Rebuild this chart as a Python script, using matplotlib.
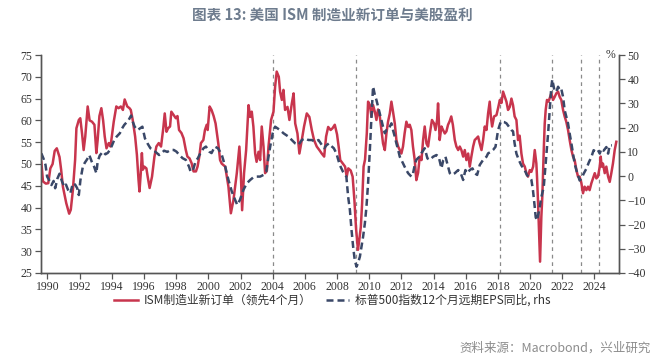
import matplotlib
matplotlib.use("Agg")
import matplotlib.pyplot as plt

# ISM new orders (lead 4 months), decimal years / index level
ism_years = [
    1989.62, 1989.72, 1989.9, 1990.05, 1990.18, 1990.32, 1990.45, 1990.58, 1990.75, 1990.85,
    1990.96, 1991.17, 1991.35, 1991.45, 1991.58, 1991.72, 1991.8, 1991.95, 1992.04, 1992.15,
    1992.25, 1992.35, 1992.5, 1992.62, 1992.77, 1992.92, 1993.04, 1993.12, 1993.23, 1993.35,
    1993.46, 1993.56, 1993.67, 1993.81, 1993.92, 1994.0, 1994.12, 1994.28, 1994.42, 1994.56,
    1994.69, 1994.8, 1994.96, 1995.1, 1995.18, 1995.3, 1995.45, 1995.56, 1995.66, 1995.72,
    1995.8, 1995.87, 1995.93, 1996.02, 1996.15, 1996.23, 1996.35, 1996.5, 1996.65, 1996.77,
    1996.92, 1997.06, 1997.2, 1997.29, 1997.4, 1997.5, 1997.62, 1997.7, 1997.83, 1997.98,
    1998.08, 1998.18, 1998.33, 1998.46, 1998.6, 1998.7, 1998.83, 1998.96, 1999.08, 1999.23,
    1999.33, 1999.44, 1999.54, 1999.69, 1999.79, 1999.9, 1999.96, 2000.08, 2000.2, 2000.33,
    2000.45, 2000.62, 2000.73, 2000.83, 2001.05, 2001.25, 2001.4, 2001.56, 2001.77, 2001.93,
    2002.02, 2002.1, 2002.22, 2002.35, 2002.5, 2002.6, 2002.7, 2002.8, 2002.91, 2003.0,
    2003.12, 2003.22, 2003.32, 2003.43, 2003.53, 2003.64, 2003.74, 2003.9, 2004.05, 2004.15,
    2004.25, 2004.38, 2004.46, 2004.57, 2004.67, 2004.77, 2004.92, 2005.04, 2005.19, 2005.3,
    2005.4, 2005.54, 2005.66, 2005.81, 2005.95, 2006.12, 2006.28, 2006.43, 2006.57, 2006.74,
    2006.9, 2007.05, 2007.2, 2007.32, 2007.45, 2007.6, 2007.72, 2007.86, 2008.0, 2008.1,
    2008.2, 2008.36, 2008.5, 2008.6, 2008.7, 2008.85, 2008.97, 2009.08, 2009.18, 2009.3,
    2009.38, 2009.48, 2009.56, 2009.65, 2009.74, 2009.85, 2009.93, 2010.04, 2010.14, 2010.24,
    2010.35, 2010.45, 2010.55, 2010.66, 2010.76, 2010.86, 2010.97, 2011.07, 2011.17, 2011.28,
    2011.38, 2011.48, 2011.59, 2011.69, 2011.8, 2011.9, 2012.0, 2012.1, 2012.2, 2012.31,
    2012.42, 2012.52, 2012.62, 2012.72, 2012.83, 2012.93, 2013.04, 2013.14, 2013.25, 2013.35,
    2013.45, 2013.56, 2013.66, 2013.77, 2013.9, 2014.03, 2014.12, 2014.22, 2014.28, 2014.38,
    2014.49, 2014.59, 2014.7, 2014.8, 2014.9, 2015.0, 2015.1, 2015.2, 2015.32, 2015.42,
    2015.53, 2015.63, 2015.73, 2015.84, 2015.94, 2016.04, 2016.15, 2016.25, 2016.35, 2016.46,
    2016.56, 2016.67, 2016.77, 2016.87, 2016.98, 2017.08, 2017.18, 2017.29, 2017.39, 2017.49,
    2017.56, 2017.64, 2017.76, 2017.91, 2018.01, 2018.12, 2018.22, 2018.32, 2018.43, 2018.53,
    2018.63, 2018.74, 2018.84, 2018.94, 2019.04, 2019.15, 2019.25, 2019.35, 2019.46, 2019.56,
    2019.67, 2019.77, 2019.87, 2019.98, 2020.08, 2020.19, 2020.29, 2020.39, 2020.43, 2020.49,
    2020.56, 2020.62, 2020.7, 2020.76, 2020.85, 2020.91, 2020.97, 2021.05, 2021.14, 2021.22,
    2021.32, 2021.43, 2021.53, 2021.63, 2021.74, 2021.84, 2021.94, 2022.05, 2022.15, 2022.25,
    2022.36, 2022.46, 2022.57, 2022.67, 2022.77, 2022.88, 2022.98, 2023.08, 2023.19, 2023.29,
    2023.39, 2023.5, 2023.6, 2023.7, 2023.81, 2023.91, 2024.02, 2024.12, 2024.22, 2024.33,
    2024.39, 2024.45, 2024.53, 2024.64, 2024.74, 2024.85, 2024.95, 2025.05, 2025.15, 2025.26,
    2025.36,
]
ism_values = [
    50.5, 46, 45.5, 45.6, 49, 50, 53, 53.6, 51.6, 48.7,
    44.8, 41, 38.6, 39.5, 44, 51, 58.2, 60.1, 60.5, 57,
    53.2, 56.3, 63.2, 60, 59.7, 59, 52.5, 55.5, 61, 62.8,
    60, 56.3, 53.6, 54.8, 54, 56.3, 59.7, 63.2, 62.8, 63.2,
    62.4, 64.8, 63.2, 62.8, 62.4, 60.1, 56.3, 52.1, 46.4, 43.7,
    47.9, 52.5, 48.7, 49.4, 49, 47.1, 44.5, 47.1, 51.7, 54,
    54.8, 54, 58.2, 61.6, 57.4, 58.2, 58.6, 62, 61.3, 60.5,
    61, 57.8, 57.1, 55.9, 53.2, 51.7, 51.3, 50.2, 48.3, 48.3,
    49.4, 51.7, 54.8, 55.5, 57.8, 59, 57.8, 63.2, 62.4, 61,
    59.3, 54.7, 50.9, 50.1, 49.4, 44.8, 38.7, 41.7, 47.9, 54,
    47.9, 39.4, 47.9, 53.2, 63.5, 60.8, 62, 58.6, 52.4, 50.5,
    52.8, 50.9, 58.6, 54, 47.9, 48.5, 54, 60.1, 62, 67.7,
    71.2, 70, 66.6, 64.7, 67, 62.4, 63.1, 60.1, 63.9, 66.2,
    59.3, 57, 52.4, 55.5, 58.6, 61.6, 60.8, 57.8, 55.5, 54,
    53.2, 52.4, 51.7, 56.3, 58.5, 57.8, 58.2, 59, 56.8, 54,
    50.9, 50.1, 49.4, 47.1, 49, 48.5, 47.1, 41.7, 35.3, 30.3,
    32.5, 35.6, 41, 49.4, 51, 57, 64.3, 63.5, 60.9, 63.5,
    62, 60.1, 62.5, 60.9, 57.8, 54.7, 53.2, 57, 59.7, 61.6,
    64.3, 62, 59.3, 55.5, 54, 53.2, 52.4, 54, 57, 59.7,
    58.5, 59, 57.8, 54, 50.9, 46.3, 48, 51.7, 50.9, 55.5,
    58.6, 54.7, 54, 57, 60.1, 59.3, 57.8, 60.1, 63.9, 55.5,
    58.6, 57.8, 57, 57.5, 59, 59.8, 60.9, 59, 55.5, 54,
    53.2, 54, 53.2, 51.7, 53.2, 50.9, 52.4, 49.4, 51.7, 54,
    55.5, 55.9, 56.3, 54.7, 53.2, 55.5, 58.6, 57.8, 61.6, 64.3,
    60.9, 58.6, 60.9, 61.2, 62.8, 64.7, 64, 66.6, 65.4, 64.3,
    62.4, 63.1, 65, 63.5, 60.9, 60.1, 55.5, 56.5, 52.4, 50.1,
    49.4, 47.9, 47.1, 48.6, 48.2, 49.4, 53.2, 50.1, 47.1, 41.7,
    34.1, 27.6, 37.9, 42.5, 53.2, 59.3, 62.4, 64.7, 64.3, 65.1,
    66.2, 64.7, 65.4, 66.2, 66.6, 65.4, 64.7, 62.4, 60.9, 59.7,
    57.8, 55.5, 53.2, 51.7, 50.9, 48.6, 47.1, 47.1, 45.6, 43.3,
    44.8, 44, 44.8, 44, 45.6, 46.7, 47.9, 46.7, 47.1, 49.4,
    51.7, 49.4, 50.1, 47.9, 49.4, 47.1, 45.9, 47.9, 50.1, 53.2,
    55.1,
]

# S&P 500 12m forward EPS yoy (%), right axis
eps_years = [
    1989.62, 1989.75, 1989.88, 1989.98, 1990.1, 1990.25, 1990.38, 1990.48, 1990.62, 1990.75,
    1990.91, 1991.05, 1991.15, 1991.28, 1991.42, 1991.58, 1991.72, 1991.85, 1991.95, 1992.05,
    1992.2, 1992.32, 1992.47, 1992.6, 1992.75, 1992.9, 1993.04, 1993.12, 1993.25, 1993.45,
    1993.6, 1993.75, 1993.88, 1994.0, 1994.15, 1994.3, 1994.5, 1994.64, 1994.77, 1994.9,
    1995.05, 1995.2, 1995.3, 1995.42, 1995.6, 1995.75, 1995.9, 1996.06, 1996.22, 1996.4,
    1996.57, 1996.7, 1996.94, 1997.08, 1997.25, 1997.45, 1997.65, 1997.85, 1998.02, 1998.2,
    1998.4, 1998.6, 1998.8, 1998.9, 1999.05, 1999.2, 1999.35, 1999.5, 1999.7, 1999.85,
    2000.06, 2000.2, 2000.4, 2000.6, 2000.84, 2001.05, 2001.25, 2001.46, 2001.67, 2001.8,
    2001.96, 2002.18, 2002.39, 2002.6, 2002.8, 2003.0, 2003.22, 2003.43, 2003.6, 2003.74,
    2003.88, 2004.0, 2004.15, 2004.3, 2004.46, 2004.67, 2004.83, 2004.98, 2005.19, 2005.4,
    2005.6, 2005.81, 2006.02, 2006.22, 2006.43, 2006.64, 2006.85, 2007.05, 2007.2, 2007.35,
    2007.5, 2007.63, 2007.8, 2007.96, 2008.17, 2008.37, 2008.58, 2008.69, 2008.8, 2008.9,
    2009.0, 2009.1, 2009.21, 2009.3, 2009.42, 2009.52, 2009.62, 2009.73, 2009.83, 2009.93,
    2010.04, 2010.14, 2010.24, 2010.35, 2010.45, 2010.55, 2010.66, 2010.76, 2010.86, 2010.97,
    2011.07, 2011.17, 2011.28, 2011.38, 2011.48, 2011.59, 2011.69, 2011.8, 2011.9, 2012.0,
    2012.1, 2012.2, 2012.31, 2012.42, 2012.52, 2012.62, 2012.72, 2012.83, 2012.93, 2013.04,
    2013.14, 2013.25, 2013.45, 2013.62, 2013.77, 2013.97, 2014.18, 2014.32, 2014.49, 2014.6,
    2014.74, 2014.9, 2015.01, 2015.12, 2015.32, 2015.53, 2015.69, 2015.84, 2015.98, 2016.1,
    2016.25, 2016.42, 2016.56, 2016.71, 2016.87, 2017.08, 2017.29, 2017.39, 2017.56, 2017.7,
    2017.85, 2018.01, 2018.18, 2018.39, 2018.53, 2018.67, 2018.84, 2018.94, 2019.04, 2019.15,
    2019.31, 2019.46, 2019.67, 2019.81, 2019.98, 2020.08, 2020.18, 2020.29, 2020.35, 2020.43,
    2020.56, 2020.7, 2020.85, 2020.97, 2021.12, 2021.22, 2021.32, 2021.38, 2021.51, 2021.63,
    2021.74, 2021.84, 2021.94, 2022.05, 2022.15, 2022.25, 2022.36, 2022.46, 2022.57, 2022.67,
    2022.77, 2022.88, 2022.98, 2023.08, 2023.19, 2023.33, 2023.5, 2023.66, 2023.81, 2023.95,
    2024.08, 2024.22, 2024.33, 2024.43, 2024.57, 2024.74, 2024.85, 2024.95, 2025.09,
]
eps_values = [
    9.4, 7.3, 4.6, -0.2, -1.6, -3.7, -2, -5, -1, 1,
    -2.3, -4.4, -3.5, -5.7, -7.1, -3, -3.5, -5, -7.8, -1.6,
    3.9, 5.5, 7, 8.7, 6, 3.9, 1.2, 6, 8.5, 10.1,
    9, 9.6, 10.8, 12.5, 14.9, 16.3, 17.7, 19.7, 21.1, 22.1,
    23.2, 25, 22.5, 20.4, 19, 19.7, 20.4, 15.6, 13.5, 11.5,
    10.8, 10.1, 8.7, 9.4, 10.5, 10, 10.8, 10.8, 10.1, 8.7,
    7.4, 6.7, 3.9, 1.8, 2.5, 6, 7.4, 9.4, 11.5, 12.2,
    10.1, 9.5, 12.2, 11.5, 8.7, 3.9, -1.6, -6.4, -9.9, -11.9,
    -9.9, -5.7, -3, -1.6, -0.5, -0.2, -0.2, 0.5, 1.8, 8,
    13.5, 17.7, 20.4, 19.7, 19, 17.7, 17, 16.3, 14.9, 13.5,
    12.9, 14.9, 15.6, 14.9, 14.9, 14.2, 14.9, 12.9, 11.5, 12.8,
    13.5, 12.5, 11.5, 9.4, 4.6, 1.8, -0.2, -8.5, -14, -22.2,
    -29.1, -34.6, -37.4, -36, -33.3, -29.1, -25, -19.5, -12.6, -3,
    10.8, 24.5, 37, 33.5, 31.4, 28.7, 25.9, 23, 20.4, 17.7,
    19, 19, 20.4, 21.8, 19, 16.3, 13.5, 10.8, 8, 6.7,
    5.3, 3.9, 2.5, 1.2, 0.5, -0.2, 1, 4.6, 6.7, 7.5,
    8, 9.5, 11.5, 7.3, 6.7, 8, 8.7, 8, 3.2, 6.5,
    8, 3.9, 1.2, 0.5, 1.2, 2.5, 1.2, -1.6, 2.5, 1.2,
    2.5, 3.2, 1.2, 0.5, 4.6, 6.7, 8, 9.4, 10, 10.8,
    12.1, 19, 22.5, 22.3, 21.8, 20.5, 19, 18.5, 13.4, 9.3,
    6.5, 4.4, 2.4, 0.3, -0.4, -1.5, -5.9, -12.8, -17, -18.3,
    -14.2, -8.7, -4.5, 5.1, 17.6, 27.2, 36.9, 39.9, 35.5, 34.8,
    36.9, 35.5, 36, 32.7, 27.2, 24.5, 21.7, 17.6, 13.4, 9.3,
    5.1, 2.4, 0.3, -1.8, -1.1, 1, 3.1, 5.8, 7.9, 10.7,
    10, 10.7, 9.3, 11.3, 10.5, 12, 9.3, 12.7, 12.7,
]

marker_years = [2004.05, 2009.17, 2018.12, 2021.38, 2023.17, 2024.27]
year_ticks = list(range(1990, 2025, 2))

title = "图表 13: 美国 ISM 制造业新订单与美股盈利"
ism_label = "ISM制造业新订单（领先4个月）"
eps_label = "标普500指数12个月远期EPS同比, rhs"
source = "资料来源：Macrobond，兴业研究"

cjk = ["Noto Sans CJK SC", "DejaVu Sans"]
num_font = ["Liberation Serif", "DejaVu Serif"]
red = "#c8354d"
navy = "#3a4868"
axis_grey = "#555555"

fig = plt.figure(figsize=(6.65, 3.6), dpi=100)
ax = fig.add_axes([0.0612, 0.2417, 0.8697, 0.6055])
ax2 = ax.twinx()

l1, = ax.plot(ism_years, ism_values, color=red, lw=1.8, label=ism_label)
l2, = ax2.plot(eps_years, eps_values, color=navy, lw=1.8, dashes=(2.8, 1.6), label=eps_label)

for yr in marker_years:
    ax.axvline(yr, color="#8a8a8a", lw=0.9, dashes=(3, 3), zorder=0)

ax.set_xlim(1989.58, 2025.53)
ax.set_ylim(25, 75)
ax2.set_ylim(-40, 50)
ax.set_xticks(year_ticks)
ax.set_yticks(range(25, 76, 5))
ax2.set_yticks(range(-40, 51, 10))

for a in (ax, ax2):
    a.spines["top"].set_visible(False)
    for s in ("left", "right", "bottom"):
        a.spines[s].set_color(axis_grey)
        a.spines[s].set_linewidth(1.0)
    a.tick_params(direction="out", length=4, width=0.9, color=axis_grey,
                  labelsize=8.5, labelcolor="#333333", pad=2)
for lab in ax.get_xticklabels() + ax.get_yticklabels() + ax2.get_yticklabels():
    lab.set_family(num_font)

ax2.text(0.986, 1.0, "%", transform=ax2.transAxes, ha="center", va="center",
         fontsize=8.5, color="#333333", family=num_font)

fig.text(0.5, 0.958, title, ha="center", va="center", fontsize=10.5,
         fontweight="bold", color="#6e7c8e", family=cjk)

fig.legend([l1, l2], [ism_label, eps_label], loc="center", bbox_to_anchor=(0.5, 0.166),
           ncol=2, frameon=False, prop={"family": cjk, "size": 8.5}, borderpad=0.1,
           handlelength=2.0, handletextpad=0.5, columnspacing=1.2, labelcolor="#333333")

fig.text(0.978, 0.033, source, ha="right", va="center", fontsize=9,
         color="#8c8c8c", family=cjk)

fig.savefig("out.png", dpi=100)
